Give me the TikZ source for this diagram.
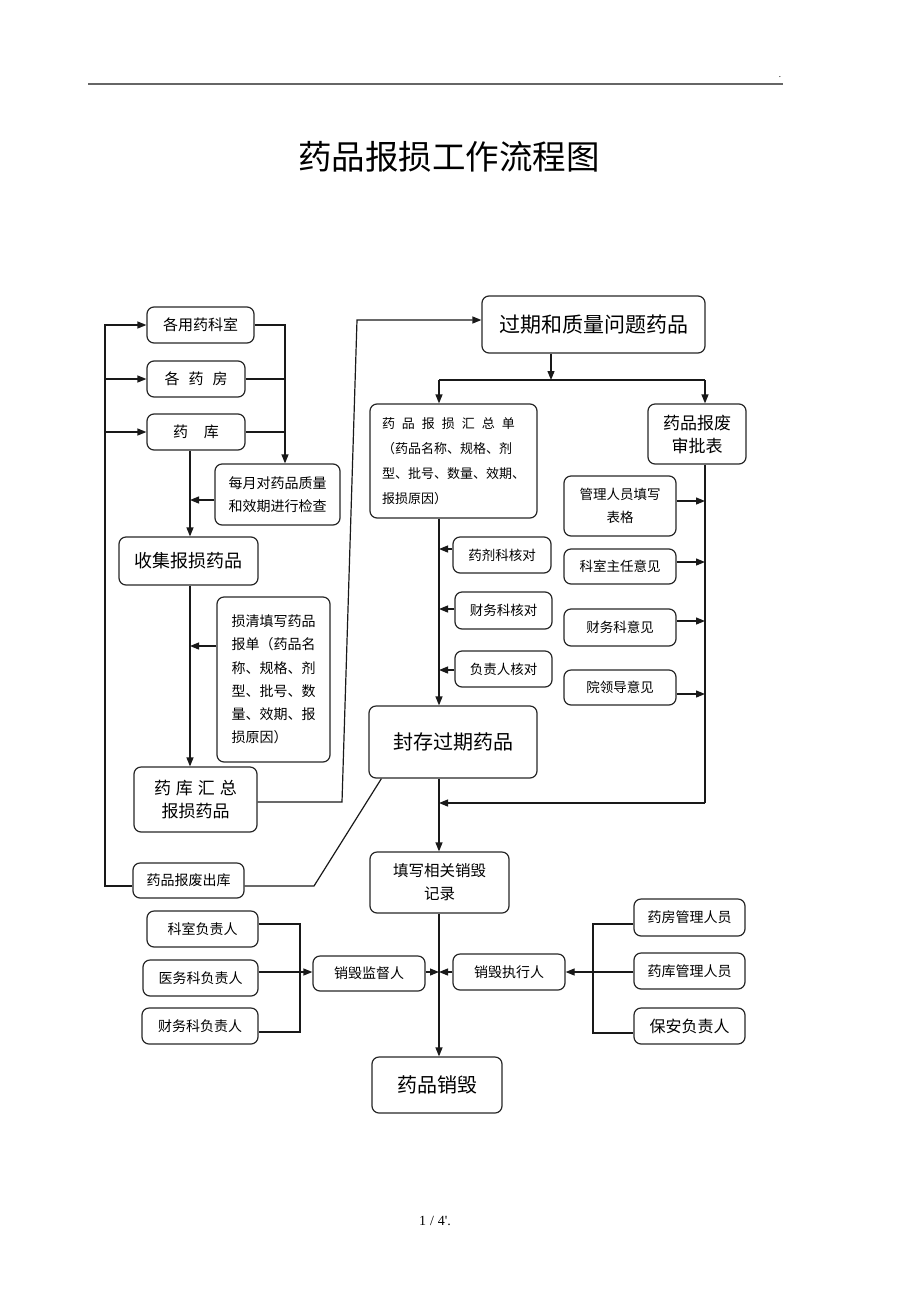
\documentclass[tikz,border=0pt]{standalone}
\usepackage{fontspec}
\setmainfont{Noto Sans CJK SC}
\newfontfamily\romfont{Liberation Serif}
\usetikzlibrary{arrows.meta, positioning}
\tikzset{box/.style={draw=black!85, line width=1.2pt, rounded corners=7pt, inner sep=2pt, align=center},
    fs/.style 2 args={font=\fontsize{#1pt}{#2pt}\selectfont},
    conn/.style={line width=1.2pt, draw=black!90},
    arr/.style={conn, -{Triangle[length=9pt,width=7pt]}}}

\begin{document}
\begin{tikzpicture}[x=1pt, y=-1pt]
                 \useasboundingbox (0,0) rectangle (920,1302);
                 % page head
                 \draw[line width=2pt, black!60] (88,84) -- (783,84);
                 \node[fs={8}{10}] (dot) at (780,77) {.};
                 \node[fs={33.5}{36}] (title) at (449,157) {药品报损工作流程图};
                 % left column
                 \node[box, fs={15}{20}, minimum width=107pt, minimum height=36pt] (beiyong) at (200.5,325) {各用药科室};
                 \node[box, fs={15}{20}, minimum width=98pt, minimum height=36pt] (yaofang) at (196,379) {各\hspace{9pt}药\hspace{9pt}房};
                 \node[box, fs={15}{20}, minimum width=98pt, minimum height=36pt] (yaoku) at (196,432) {药\hspace{16pt}库};
                 \node[box, fs={14}{23}, minimum width=125pt, minimum height=61pt] (jiancha) at (277.5,494.5) {每月对药品质量\\和效期进行检查};
                 \node[box, fs={18}{22}, minimum width=139pt, minimum height=48pt] (shouji) at (188.5,561) {收集报损药品};
                 \node[box, fs={14}{23.3}, align=left, minimum width=113pt, minimum height=165pt] (tianxie) at (273.5,679.5) {损清填写药品\\报单（药品名\\称、规格、剂\\型、批号、数\\量、效期、报\\损原因）};
                 \node[box, fs={17}{23}, minimum width=123pt, minimum height=65pt] (huizong) at (195.5,799.5) {药\hspace{5pt}库\hspace{5pt}汇\hspace{5pt}总\\报损药品};
                 \node[box, fs={14}{20}, minimum width=111pt, minimum height=35pt] (chuku) at (188.5,880.5) {药品报废出库};
                 % right column
                 \node[box, fs={21}{24}, minimum width=223pt, minimum height=57pt] (guoqi) at (593.5,324.5) {过期和质量问题药品};
                 \node[box, fs={13}{25}, align=left, minimum width=167pt, minimum height=114pt] (huizongdan) at (453.5,461) {药\hspace{7pt}品\hspace{7pt}报\hspace{7pt}损\hspace{7pt}汇\hspace{7pt}总\hspace{7pt}单\\（药品名称、规格、剂\\型、批号、数量、效期、\\报损原因）};
                 \node[box, fs={17}{23}, minimum width=98pt, minimum height=60pt] (shenpi) at (697,434) {药品报废\\审批表};
                 \node[box, fs={13.5}{23}, minimum width=112pt, minimum height=60pt] (guanli) at (620,506) {管理人员填写\\表格};
                 \node[box, fs={13.5}{18}, minimum width=98pt, minimum height=36pt] (hd1) at (502,555) {药剂科核对};
                 \node[box, fs={13.5}{18}, minimum width=97pt, minimum height=37pt] (hd2) at (503.5,610.5) {财务科核对};
                 \node[box, fs={13.5}{18}, minimum width=97pt, minimum height=36pt] (hd3) at (503.5,669) {负责人核对};
                 \node[box, fs={13.5}{18}, minimum width=112pt, minimum height=35pt] (yj2) at (620,566.5) {科室主任意见};
                 \node[box, fs={13.5}{18}, minimum width=112pt, minimum height=37pt] (yj3) at (620,627.5) {财务科意见};
                 \node[box, fs={13.5}{18}, minimum width=112pt, minimum height=35pt] (yj4) at (620,687.5) {院领导意见};
                 \node[box, fs={20}{24}, minimum width=168pt, minimum height=72pt] (fengcun) at (453,742) {封存过期药品};
                 % destruction
                 \node[box, fs={15.5}{23}, minimum width=139pt, minimum height=61pt] (jilu) at (439.5,882.5) {填写相关销毁\\记录};
                 \node[box, fs={14}{18}, minimum width=111pt, minimum height=36pt] (kszr) at (202.5,929) {科室负责人};
                 \node[box, fs={14}{18}, minimum width=115pt, minimum height=36pt] (ywk) at (200.5,978) {医务科负责人};
                 \node[box, fs={14}{18}, minimum width=116pt, minimum height=36pt] (cwk) at (200,1026) {财务科负责人};
                 \node[box, fs={14}{18}, minimum width=112pt, minimum height=35pt] (jiandu) at (369,973.5) {销毁监督人};
                 \node[box, fs={14}{18}, minimum width=112pt, minimum height=36pt] (zhixing) at (509,972) {销毁执行人};
                 \node[box, fs={14}{18}, minimum width=111pt, minimum height=37pt] (yfgl) at (689.5,917.5) {药房管理人员};
                 \node[box, fs={14}{18}, minimum width=111pt, minimum height=36pt] (ykgl) at (689.5,971) {药库管理人员};
                 \node[box, fs={16}{20}, minimum width=111pt, minimum height=36pt] (baoan) at (689.5,1026) {保安负责人};
                 \node[box, fs={20}{24}, minimum width=130pt, minimum height=56pt] (xiaohui) at (437,1085) {药品销毁};
                 \node[font=\romfont\fontsize{14pt}{16pt}\selectfont] (page) at (435,1221) {1\hspace{4pt}/\hspace{4pt}4'.};
                 % bends
                 \coordinate (loopL) at (105,886);
                 \coordinate (colR) at (285,325);
                 \coordinate (colA) at (190,450);
                 \coordinate (cA1) at (190,500);
                 \coordinate (cA2) at (190,646);
                 \coordinate (s1) at (342,802);
                 \coordinate (s2) at (357,320);
                 \coordinate (s3) at (314,886);
                 \coordinate (jA) at (551,380);
                 \coordinate (colB) at (439,380);
                 \coordinate (colC) at (705,380);
                 \coordinate (jh1) at (439,549);
                 \coordinate (jh2) at (439,609);
                 \coordinate (jh3) at (439,670);
                 \coordinate (jy1) at (705,501);
                 \coordinate (jy2) at (705,562);
                 \coordinate (jy3) at (705,621);
                 \coordinate (jy4) at (705,694);
                 \coordinate (cR) at (705,803);
                 \coordinate (brL1) at (300,924);
                 \coordinate (brL2) at (300,1032);
                 \coordinate (brR1) at (593,924);
                 \coordinate (brR2) at (593,1033);
                 \coordinate (jM) at (439,972);
                 % connectors
                 \draw[arr] (chuku.west |- loopL) -- (loopL) |- (beiyong.west);
                 \draw[arr] (loopL |- yaofang.west) -- (yaofang.west);
                 \draw[arr] (loopL |- yaoku.west) -- (yaoku.west);
                 \draw[arr] (beiyong.east) -| (colR |- jiancha.north);
                 \draw[conn] (yaofang.east) -- (yaofang.east -| colR);
                 \draw[conn] (yaoku.east) -- (yaoku.east -| colR);
                 \draw[arr] (yaoku.south -| colA) -- (shouji.north -| colA);
                 \draw[arr] (jiancha.west |- cA1) -- (cA1);
                 \draw[arr] (shouji.south -| colA) -- (huizong.north -| colA);
                 \draw[arr] (tianxie.west |- cA2) -- (cA2);
                 \draw[arr] (huizong.east |- s1) -- (s1) -- (s2) -- (guoqi.west |- s2);
                 \draw[conn] (chuku.east |- s3) -- (s3) -- ([xshift=13pt]fengcun.south west);
                 \draw[arr] (guoqi.south -| jA) -- (jA);
                 \draw[conn] (colB) -- (colC);
                 \draw[arr] (colB) -- (huizongdan.north -| colB);
                 \draw[arr] (colC) -- (shenpi.north -| colC);
                 \draw[arr] (huizongdan.south -| colB) -- (fengcun.north -| colB);
                 \draw[arr] (hd1.west |- jh1) -- (jh1);
                 \draw[arr] (hd2.west |- jh2) -- (jh2);
                 \draw[arr] (hd3.west |- jh3) -- (jh3);
                 \draw[conn] (shenpi.south -| colC) -- (cR);
                 \draw[arr] (cR) -- (cR -| colB);
                 \draw[arr] (guanli.east |- jy1) -- (jy1);
                 \draw[arr] (yj2.east |- jy2) -- (jy2);
                 \draw[arr] (yj3.east |- jy3) -- (jy3);
                 \draw[arr] (yj4.east |- jy4) -- (jy4);
                 \draw[arr] (fengcun.south -| colB) -- (jilu.north -| colB);
                 \draw[arr] (jilu.south -| colB) -- (xiaohui.north -| colB);
                 \draw[conn] (kszr.east |- brL1) -- (brL1) -- (brL2) -- (cwk.east |- brL2);
                 \draw[arr] (ywk.east |- jM) -- (jiandu.west |- jM);
                 \draw[arr] (jiandu.east |- jM) -- (jM);
                 \draw[arr] (zhixing.west |- jM) -- (jM);
                 \draw[conn] (yfgl.west |- brR1) -- (brR1) -- (brR2) -- (baoan.west |- brR2);
                 \draw[arr] (ykgl.west |- jM) -- (zhixing.east |- jM);
             \end{tikzpicture}
\end{document}
